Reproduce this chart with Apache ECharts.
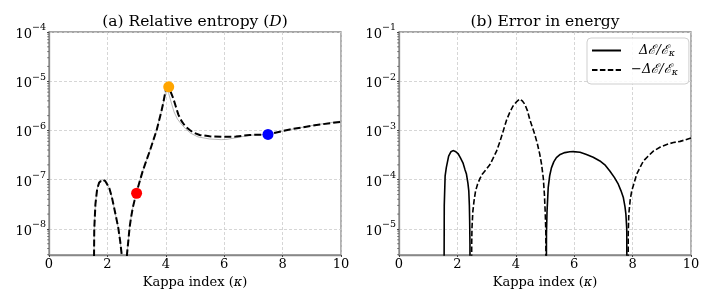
<!DOCTYPE html>
<html><head><meta charset="utf-8">
<script src="https://cdn.jsdelivr.net/npm/echarts@6/dist/echarts.min.js"></script>
<style>html,body{margin:0;padding:0;background:#fff}#c{width:714px;height:305px}</style>
</head><body><div id="c"></div>
<script>
// ---------- data ----------
const kappaTicks = [0, 2, 4, 6, 8, 10];
const leftDecades = [-9, -8, -7, -6, -5];
const rightDecades = [-6, -5, -4, -3, -2];
const minorMultiples = [2, 3, 4, 5, 6, 7, 8, 9];

// (a) relative entropy, dashed curve
const entropyDashed = [
  [1.51,1e-11],[1.55,1e-8],[1.59,3.2e-8],[1.65,6.5e-8],[1.72,8.8e-8],[1.83,1.0e-7],
  [1.93,9.3e-8],[2.06,6.9e-8],[2.15,4.5e-8],[2.23,2.7e-8],[2.30,1.7e-8],[2.37,1.07e-8],
  [2.44,5.5e-9],[2.49,3.0e-9],[2.58,1e-11],[2.67,3.0e-9],[2.72,6e-9],[2.76,1.07e-8],
  [2.81,1.7e-8],[2.87,2.7e-8],[2.93,3.8e-8],[2.99,5.3e-8],[3.10,9e-8],[3.21,1.5e-7],
  [3.33,2.4e-7],[3.45,3.8e-7],[3.56,6e-7],[3.68,9.8e-7],[3.77,1.6e-6],[3.85,2.45e-6],
  [3.92,3.8e-6],[3.99,6.3e-6],[4.05,7.6e-6],[4.10,7.4e-6],[4.17,6.0e-6],[4.25,4.6e-6],
  [4.34,3.1e-6],[4.43,2.1e-6],[4.54,1.55e-6],[4.66,1.23e-6],[4.82,1.02e-6],[4.95,9.0e-7],
  [5.16,8.1e-7],[5.5,7.6e-7],[5.97,7.4e-7],[6.4,7.5e-7],[6.88,8.1e-7],[7.51,8.3e-7],
  [8.25,1.05e-6],[9.16,1.29e-6],[10,1.5e-6]
];
// (a) thin grey reference curve
const entropyGrey = [
  [1.51,1e-11],[1.55,1e-8],[1.59,3.2e-8],[1.65,6.5e-8],[1.72,8.8e-8],[1.83,1.0e-7],
  [1.93,9.3e-8],[2.06,6.9e-8],[2.15,4.5e-8],[2.23,2.7e-8],[2.30,1.7e-8],[2.37,1.07e-8],
  [2.44,5.5e-9],[2.49,3.0e-9],[2.58,1e-11],[2.67,3.0e-9],[2.72,6e-9],[2.76,1.07e-8],
  [2.81,1.7e-8],[2.87,2.7e-8],[2.93,3.8e-8],[2.99,5.3e-8],[3.10,9e-8],[3.21,1.5e-7],
  [3.33,2.4e-7],[3.45,3.8e-7],[3.56,6e-7],[3.68,9.8e-7],[3.77,1.6e-6],[3.85,2.45e-6],
  [3.92,3.8e-6],[3.99,6.1e-6],[4.04,6.9e-6],[4.10,5.6e-6],[4.18,3.8e-6],[4.28,2.4e-6],
  [4.40,1.7e-6],[4.55,1.3e-6],[4.70,1.05e-6],[4.85,8.8e-7],[5.1,7.4e-7],[5.5,6.7e-7],
  [5.9,6.5e-7],[6.1,6.6e-7],[6.4,7.1e-7],[6.88,8.0e-7],[7.51,8.3e-7],
  [8.25,1.04e-6],[9.16,1.31e-6],[10,1.55e-6]
];
const markerRed = [[3.0, 5.3e-8]];
const markerOrange = [[4.1, 7.7e-6]];
const markerBlue = [[7.5, 8.3e-7]];

// (b) error in energy
const energyPos = [
  [1.53,1e-9],[1.55,3e-5],[1.58,1.2e-4],[1.62,1.75e-4],[1.70,3.0e-4],[1.78,3.7e-4],
  [1.85,3.9e-4],[1.93,3.75e-4],[2.02,3.4e-4],[2.10,2.8e-4],[2.19,2.2e-4],[2.26,1.6e-4],
  [2.31,1.3e-4],[2.36,8.5e-5],[2.39,5.9e-5],[2.41,3e-5],[2.42,1.5e-5],[2.43,5e-6],[2.44,1e-9],
  null,
  [5.04,1e-9],[5.05,8e-6],[5.07,2.3e-5],[5.11,6.9e-5],[5.16,1.2e-4],[5.22,1.74e-4],
  [5.30,2.3e-4],[5.39,2.8e-4],[5.52,3.25e-4],[5.68,3.55e-4],[5.85,3.7e-4],[5.97,3.72e-4],
  [6.2,3.6e-4],[6.42,3.25e-4],[6.65,2.85e-4],[6.88,2.4e-4],[7.05,2.0e-4],[7.22,1.5e-4],
  [7.38,1.1e-4],[7.51,8.1e-5],[7.60,6e-5],[7.68,4.4e-5],[7.74,2.8e-5],[7.77,2.0e-5],
  [7.80,1e-5],[7.82,1e-9]
];
const energyNeg = [
  [2.47,1e-9],[2.49,5e-6],[2.50,1.07e-5],[2.53,2.3e-5],[2.57,3.7e-5],[2.62,5.8e-5],
  [2.69,8.1e-5],[2.77,1.05e-4],[2.85,1.29e-4],[2.98,1.6e-4],[3.11,2.0e-4],[3.22,2.7e-4],
  [3.34,3.8e-4],[3.45,5.8e-4],[3.57,9.8e-4],[3.68,1.6e-3],[3.79,2.3e-3],[3.90,3.1e-3],
  [4.02,3.8e-3],[4.14,4.35e-3],[4.22,4.0e-3],[4.31,3.4e-3],[4.40,2.5e-3],[4.48,1.66e-3],
  [4.57,1.15e-3],[4.65,8.3e-4],[4.74,5.3e-4],[4.82,3.3e-4],[4.88,2.1e-4],[4.94,1.1e-4],
  [4.98,5e-5],[5.01,2e-5],[5.03,8e-6],[5.04,1e-9],
  null,
  [7.84,1e-9],[7.85,8e-6],[7.87,2e-5],[7.92,4e-5],[7.97,5.9e-5],[8.05,8.5e-5],
  [8.14,1.29e-4],[8.25,1.75e-4],[8.37,2.4e-4],[8.53,3.0e-4],[8.71,3.8e-4],[8.95,4.6e-4],
  [9.17,5.2e-4],[9.40,5.7e-4],[9.63,6.0e-4],[9.82,6.5e-4],[10,7.0e-4]
];
const leftRange = [2.95e-9, 1e-4];
const rightRange = [2.95e-6, 1e-1];

// ---------- chart ----------
const SERIF = "'DejaVu Serif', serif";
const chart = echarts.init(document.getElementById('c'), null, {renderer: 'canvas'});

function minorValues(decades, range) {
  const out = [];
  decades.forEach(d => minorMultiples.forEach(m => {
    const v = m * Math.pow(10, d);
    if (v > range[0] && v < range[1]) out.push([0, v]);
  }));
  return out;
}

const splitStyle = {show: true, lineStyle: {color: '#cccccc', type: [3, 2], width: 0.8}};

function xAxis(gi) {
  return {
    type: 'value', gridIndex: gi, min: 0, max: 10, interval: 2,
    name: '{t|Kappa index (}{i|κ}{t|)}', nameLocation: 'middle', nameGap: 17,
    nameTextStyle: {rich: {t: {fontFamily: SERIF, fontSize: 13, color: '#000'},
                           i: {fontFamily: SERIF, fontSize: 13, fontStyle: 'italic', color: '#000'}}},
    axisLine: {show: true, onZero: false, lineStyle: {color: '#888', width: 1.3}},
    axisTick: {show: true, inside: false, length: 2, lineStyle: {color: '#444', width: 1}},
    axisLabel: {margin: 3, fontFamily: SERIF, fontSize: 13, color: '#000'},
    splitLine: splitStyle
  };
}
function yAxis(gi, range) {
  return {
    type: 'log', logBase: 10, gridIndex: gi, min: range[0], max: range[1],
    axisLine: {show: true, lineStyle: {color: '#888', width: 1.3}},
    axisTick: {show: true, inside: false, length: 2, lineStyle: {color: '#444', width: 1}},
    axisLabel: {
      margin: 3, showMinLabel: false,
      formatter: v => {
        const e = Math.round(Math.log10(v));
        return '{b|10}{s|' + (e < 0 ? '−' : '') + Math.abs(e) + '}';
      },
      rich: {
        b: {fontFamily: SERIF, fontSize: 13, color: '#000', lineHeight: 18, verticalAlign: 'bottom'},
        s: {fontFamily: SERIF, fontSize: 9.5, color: '#000', lineHeight: 11, verticalAlign: 'top'}
      }
    },
    splitLine: splitStyle
  };
}
function minorTicks(gi, decades, range) {
  return {
    type: 'custom', xAxisIndex: gi, yAxisIndex: gi, clip: false, silent: true, z: 5,
    data: minorValues(decades, range),
    renderItem: (params, api) => {
      const p = api.coord([api.value(0), api.value(1)]);
      return {type: 'line', shape: {x1: p[0] - 1.8, y1: p[1], x2: p[0], y2: p[1]},
              style: {stroke: '#555', lineWidth: 0.8}};
    }
  };
}
function marker(data, color) {
  return {type: 'scatter', xAxisIndex: 0, yAxisIndex: 0, data: data, symbolSize: 11,
          itemStyle: {color: color, opacity: 1}, z: 10};
}

const legendRich = {
  sp: {width: 8},
  t: {fontFamily: SERIF, fontSize: 13, fontStyle: 'italic', color: '#000', lineHeight: 16},
  k: {fontFamily: SERIF, fontSize: 9.5, fontStyle: 'italic', color: '#000', lineHeight: 10, verticalAlign: 'bottom'}
};

chart.setOption({
  animation: false,
  backgroundColor: '#fff',
  title: [
    {text: '(a) Relative entropy ({i|D})', left: 195, top: 14, textAlign: 'center', padding: 0,
     textStyle: {fontFamily: SERIF, fontSize: 15.5, fontWeight: 'normal', color: '#000',
                 rich: {i: {fontFamily: SERIF, fontSize: 15.5, fontStyle: 'italic', color: '#000'}}}},
    {text: '(b) Error in energy', left: 545, top: 14, textAlign: 'center', padding: 0,
     textStyle: {fontFamily: SERIF, fontSize: 15.5, fontWeight: 'normal', color: '#000'}}
  ],
  legend: {
    data: ['pos', 'neg'], orient: 'vertical', left: 587, top: 38,
    padding: [6, 11, 6, 4], itemGap: 5, itemWidth: 29, itemHeight: 14,
    backgroundColor: 'rgba(255,255,255,0.85)', borderColor: '#cfcfcf', borderWidth: 1, borderRadius: 4,
    itemStyle: {opacity: 0},
    formatter: n => n === 'pos' ? '{sp|}{t|Δℰ/ℰ}{k|κ}' : '{t|−Δℰ/ℰ}{k|κ}',
    textStyle: {rich: legendRich, padding: [0, 0, 0, 5]}
  },
  grid: [
    {left: 49, top: 32, width: 292, height: 223, show: true, borderColor: '#888', borderWidth: 1.3},
    {left: 399, top: 32, width: 292, height: 223, show: true, borderColor: '#888', borderWidth: 1.3}
  ],
  xAxis: [xAxis(0), xAxis(1)],
  yAxis: [yAxis(0, leftRange), yAxis(1, rightRange)],
  series: [
    {type: 'line', name: 'grey', xAxisIndex: 0, yAxisIndex: 0, data: entropyGrey, symbol: 'none',
     lineStyle: {color: '#999', width: 0.7}, z: 3},
    {type: 'line', name: 'entropy', xAxisIndex: 0, yAxisIndex: 0, data: entropyDashed, symbol: 'none',
     lineStyle: {color: '#000', width: 2, type: [7, 3]}, z: 4},
    marker(markerRed, '#ff0000'),
    marker(markerOrange, '#ffa500'),
    marker(markerBlue, '#0000ff'),
    {type: 'line', name: 'pos', xAxisIndex: 1, yAxisIndex: 1, data: energyPos, symbol: 'none',
     connectNulls: false, lineStyle: {color: '#000', width: 1.6}, itemStyle: {color: '#000'}, z: 4},
    {type: 'line', name: 'neg', xAxisIndex: 1, yAxisIndex: 1, data: energyNeg, symbol: 'none',
     connectNulls: false, lineStyle: {color: '#000', width: 1.6, type: [5.5, 2.4]}, itemStyle: {color: '#000'}, z: 4},
    minorTicks(0, leftDecades, leftRange),
    minorTicks(1, rightDecades, rightRange)
  ]
});
</script>
</body></html>
